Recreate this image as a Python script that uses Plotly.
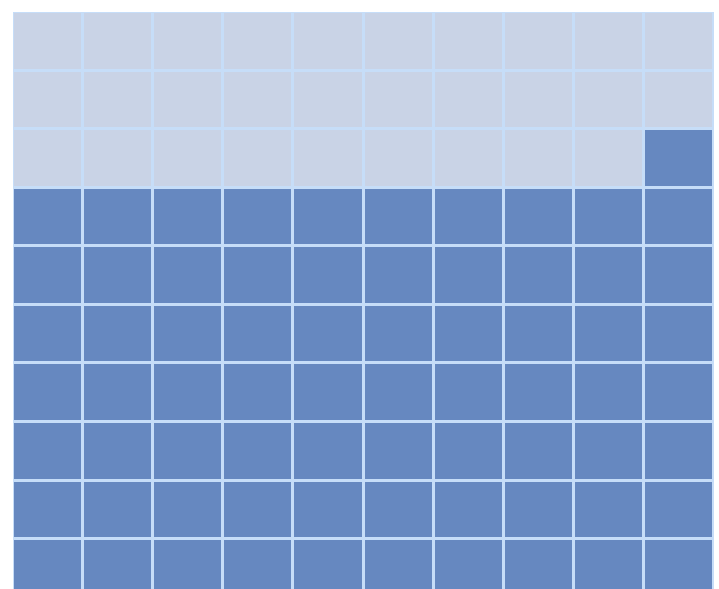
import plotly.graph_objects as go

# Data
total_cells = 100
filled_cells = 71
n_cols = 10
n_rows = 10
categories = ["Filled", "Remaining"]

z = []
for r in range(n_rows):
    row = []
    for c in range(n_cols):
        k = (n_rows - 1 - r) * n_cols + (n_cols - 1 - c)
        row.append(1 if k < filled_cells else 0)
    z.append(row)

fig = go.Figure(go.Heatmap(
    z=z,
    x=list(range(n_cols)),
    y=list(range(n_rows)),
    colorscale=[[0, "#C9D3E6"], [0.5, "#C9D3E6"], [0.5, "#6688C0"], [1, "#6688C0"]],
    zmin=0, zmax=1,
    showscale=False,
    xgap=3, ygap=3,
    hoverinfo="skip",
))

fig.update_layout(
    width=719, height=589,
    margin=dict(l=13, r=5, t=12, b=0),
    paper_bgcolor="white",
    plot_bgcolor="#C6DDF8",
    showlegend=False,
)
fig.update_xaxes(range=[-0.5, 9.5], visible=False, fixedrange=True)
fig.update_yaxes(range=[9.35, -0.5], visible=False, fixedrange=True)

fig.write_html("out.html")
